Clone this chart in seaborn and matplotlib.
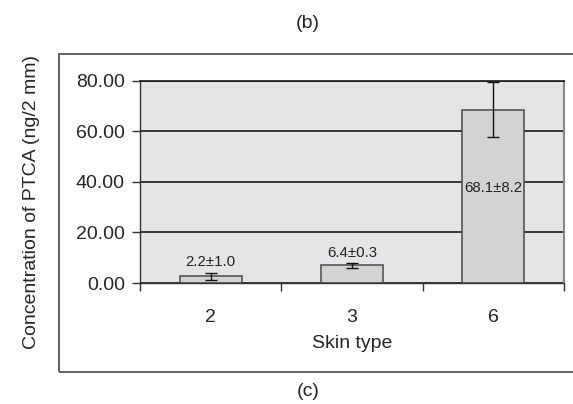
import matplotlib
matplotlib.use("Agg")
import matplotlib.pyplot as plt
from matplotlib.patches import Rectangle
import pandas as pd
import seaborn as sns

# values
skin_types = ["2", "3", "6"]
bar_heights = [2.6, 7.0, 68.6]
bar_errors = [1.5, 1.1, 10.9]
bar_labels = ["2.2±1.0", "6.4±0.3", "68.1±8.2"]
y_ticks = [0, 20, 40, 60, 80]

sns.set_style("white")
plt.rcParams["font.family"] = ["Liberation Sans", "DejaVu Sans"]
plt.rcParams["font.size"] = 14

df = pd.DataFrame({"skin": skin_types, "conc": bar_heights})

fig = plt.figure(figsize=(5.73, 4.04), dpi=100)
ax = fig.add_axes([140 / 573, 1 - 283 / 404, 424 / 573, 202.3 / 404])
ax.set_facecolor("#e5e5e7")
ax.set_axisbelow(True)

sns.barplot(data=df, x="skin", y="conc", order=skin_types, color="#d3d3d3",
            width=0.44, edgecolor="#555555", linewidth=1.2, saturation=1, ax=ax)
ax.errorbar(range(len(skin_types)), bar_heights, yerr=bar_errors, fmt="none",
            ecolor="#111111", elinewidth=1.0, capsize=4.5, capthick=1.0)

# value labels: above the small bars, inside the tall one
label_y = [8.4, 11.9, 37.6]
for i, (txt, yy) in enumerate(zip(bar_labels, label_y)):
    ax.text(i, yy, txt, ha="center", va="center", fontsize=10.8, color="#222222")

ax.set_ylim(0, 80)
ax.set_xlim(-0.5, 2.5)
ax.set_yticks(y_ticks)
ax.set_yticklabels(["%.2f" % v for v in y_ticks])
ax.yaxis.grid(True, color="#1a1a1a", linewidth=1.2)
ax.xaxis.grid(False)

ax.tick_params(axis="y", which="major", direction="out", length=6, width=1,
               color="#333333", pad=4.8, left=True)
ax.tick_params(axis="x", which="major", length=0, pad=19)
ax.set_xticks([-0.5, 0.5, 1.5, 2.5], minor=True)
ax.tick_params(axis="x", which="minor", direction="out", length=6, width=1,
               color="#333333", bottom=True)

for side in ["left", "bottom"]:
    ax.spines[side].set_color("#333333")
    ax.spines[side].set_linewidth(1.0)
ax.spines["top"].set_color("#1a1a1a")
ax.spines["top"].set_linewidth(1.2)
ax.spines["right"].set_color("#888888")
ax.spines["right"].set_linewidth(1.5)

ax.set_xlabel("Skin type")
ax.xaxis.label.set_va("center")
ax.xaxis.set_label_coords(0.5, (283 - 344) / 202.3)
ax.set_ylabel("Concentration of PTCA (ng/2 mm)")
ax.yaxis.label.set_va("center")
ax.yaxis.set_label_coords((32 - 140) / 424, (283 - 202) / 202.3)

# outer frame and panel letters
fig.patches.append(Rectangle((59 / 573, 1 - 371.5 / 404), 530 / 573, 317.5 / 404,
                             transform=fig.transFigure, fill=False,
                             edgecolor="#555555", linewidth=1.3))
fig.text(308 / 573, 1 - 23 / 404, "(b)", ha="center", va="center", fontsize=14)
fig.text(308 / 573, 1 - 391 / 404, "(c)", ha="center", va="center", fontsize=14)

fig.savefig("out.png", dpi=100)
